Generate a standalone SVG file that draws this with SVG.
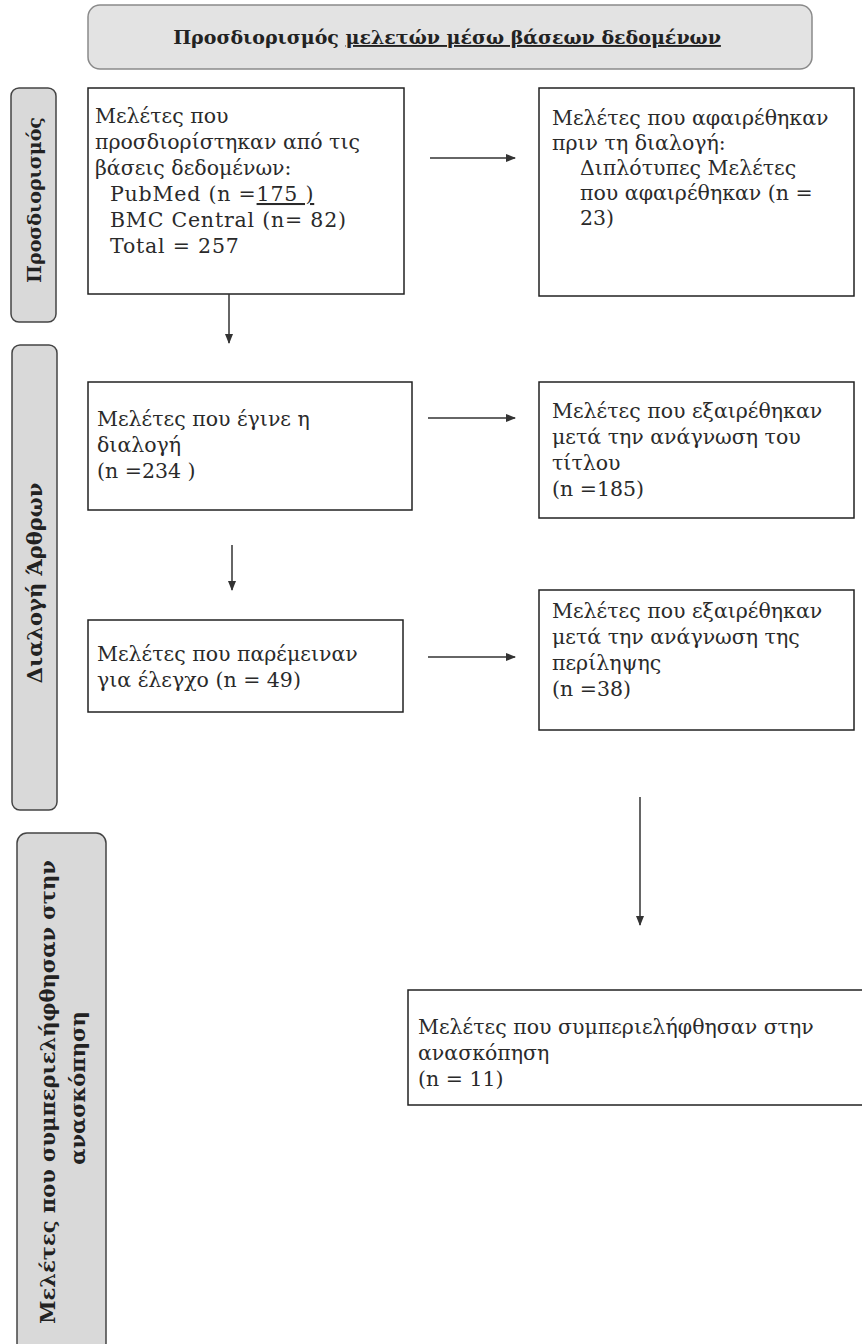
<svg xmlns="http://www.w3.org/2000/svg" width="862" height="1344" viewBox="0 0 862 1344">
<style>
.bar{fill:#d9d9d9;stroke:#444;stroke-width:1.5}
.hdr{fill:#e3e3e3;stroke:#8a8a8a;stroke-width:1.5}
.box{fill:#fff;stroke:#222;stroke-width:1.5}
.t{font-family:"DejaVu Serif","Liberation Serif",serif;font-size:20.5px;fill:#2a2a2a}
.l{letter-spacing:0.8px}
.b{font-family:"DejaVu Serif","Liberation Serif",serif;font-weight:bold;fill:#222}
.c{stroke:#333;stroke-width:1.5;fill:none}
</style>
<defs>
<marker id="ah" markerWidth="10" markerHeight="8" refX="9" refY="4" orient="auto" markerUnits="userSpaceOnUse">
<path d="M0,0 L10,4 L0,8 Z" fill="#333"/>
</marker>
</defs>
<rect width="862" height="1344" fill="#fff"/>

<g id="header">
<rect class="hdr" x="88" y="5" width="724" height="64" rx="12"/>
<text class="b" x="447" y="44" font-size="19" text-anchor="middle">Προσδιορισμός <tspan text-decoration="underline">μελετών μέσω βάσεων δεδομένων</tspan></text>
</g>

<g id="phase1">
<rect class="bar" x="11" y="88" width="45" height="234" rx="8"/>
<text class="b" font-size="19" text-anchor="middle" transform="translate(41,200) rotate(-90)">Προσδιορισμός</text>
</g>
<g id="phase2">
<rect class="bar" x="12" y="345" width="45" height="465" rx="8"/>
<text class="b" font-size="21" text-anchor="middle" transform="translate(42,583) rotate(-90)">Διαλογή Άρθρων</text>
</g>
<g id="phase3">
<rect class="bar" x="17" y="833" width="89" height="520" rx="10"/>
<text class="b" font-size="21" text-anchor="middle" transform="translate(55,1092) rotate(-90)">Μελέτες που συμπεριελήφθησαν στην</text>
<text class="b" font-size="21" text-anchor="middle" transform="translate(85,1088) rotate(-90)">ανασκόπηση</text>
</g>

<g id="identified">
<rect class="box" x="88" y="88" width="316" height="206"/>
<text class="t" x="95" y="123">Μελέτες που</text>
<text class="t" x="95" y="149">προσδιορίστηκαν από τις</text>
<text class="t" x="95" y="175">βάσεις δεδομένων:</text>
<text class="t l" x="110" y="201">PubMed (n =<tspan text-decoration="underline">175 )</tspan></text>
<text class="t l" x="110" y="227">BMC Central (n= 82)</text>
<text class="t l" x="110" y="253">Total = 257</text>
</g>

<g id="removed">
<rect class="box" x="539" y="88" width="315" height="208"/>
<text class="t" x="552" y="125">Μελέτες που αφαιρέθηκαν</text>
<text class="t" x="552" y="150">πριν τη διαλογή:</text>
<text class="t" x="580" y="175">Διπλότυπες Μελέτες</text>
<text class="t" x="580" y="200">που αφαιρέθηκαν  (n =</text>
<text class="t" x="580" y="225">23)</text>
</g>

<g id="screened">
<rect class="box" x="88" y="382" width="324" height="128"/>
<text class="t" x="97" y="426">Μελέτες που έγινε η</text>
<text class="t" x="97" y="452">διαλογή</text>
<text class="t" x="97" y="478">(n =234 )</text>
</g>

<g id="excludedTitle">
<rect class="box" x="539" y="382" width="315" height="136"/>
<text class="t" x="552" y="418">Μελέτες που εξαιρέθηκαν</text>
<text class="t" x="552" y="444">μετά την ανάγνωση του</text>
<text class="t" x="552" y="470">τίτλου</text>
<text class="t" x="552" y="496">(n =185)</text>
</g>

<g id="remaining">
<rect class="box" x="88" y="620" width="315" height="92"/>
<text class="t" x="97" y="661">Μελέτες που παρέμειναν</text>
<text class="t" x="97" y="687">για έλεγχο (n = 49)</text>
</g>

<g id="excludedAbstract">
<rect class="box" x="539" y="590" width="315" height="140"/>
<text class="t" x="552" y="618">Μελέτες που εξαιρέθηκαν</text>
<text class="t" x="552" y="644">μετά την ανάγνωση της</text>
<text class="t" x="552" y="670">περίληψης</text>
<text class="t" x="552" y="696">(n =38)</text>
</g>

<g id="included">
<rect class="box" x="408" y="990" width="470" height="115"/>
<text class="t" x="418" y="1034">Μελέτες που συμπεριελήφθησαν στην</text>
<text class="t" x="418" y="1060">ανασκόπηση</text>
<text class="t" x="418" y="1086">(n = 11)</text>
</g>

<g id="connectors">
<line class="c" x1="430" y1="158" x2="515" y2="158" marker-end="url(#ah)"/>
<line class="c" x1="229" y1="294" x2="229" y2="343" marker-end="url(#ah)"/>
<line class="c" x1="428" y1="418" x2="515" y2="418" marker-end="url(#ah)"/>
<line class="c" x1="232" y1="545" x2="232" y2="590" marker-end="url(#ah)"/>
<line class="c" x1="428" y1="657" x2="515" y2="657" marker-end="url(#ah)"/>
<line class="c" x1="640" y1="797" x2="640" y2="925" marker-end="url(#ah)"/>
</g>
</svg>
